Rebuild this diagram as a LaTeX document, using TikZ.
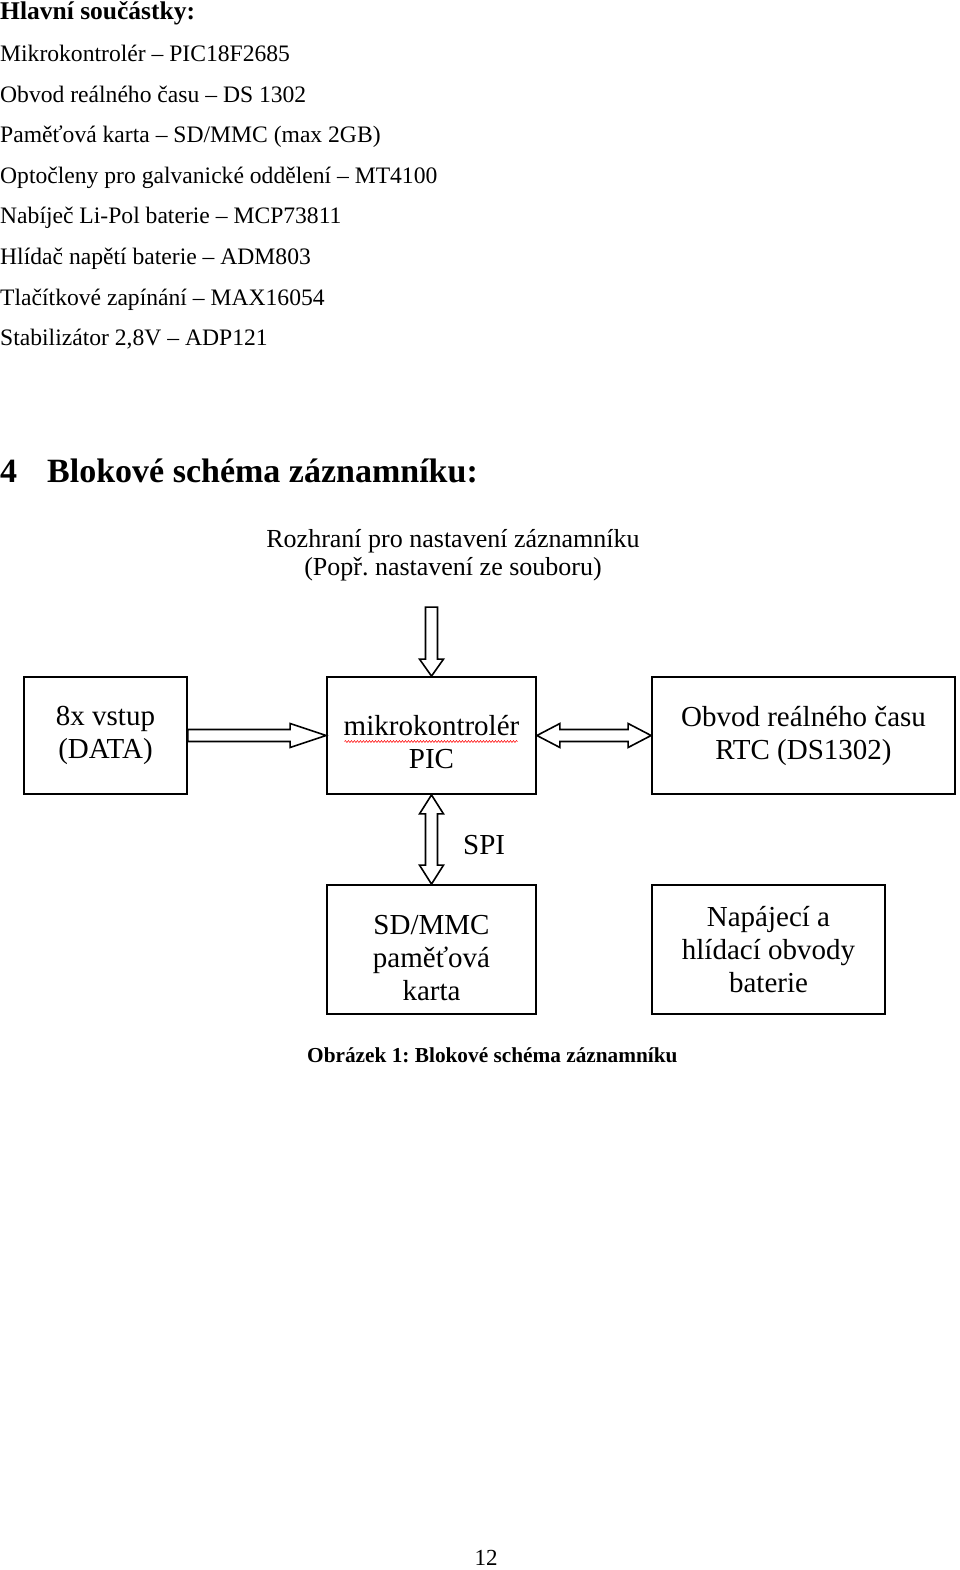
\documentclass[tikz,border=0pt]{standalone}
\usepackage{fontspec}
\setmainfont{Liberation Serif}
\usetikzlibrary{calc,decorations.pathmorphing}
\frenchspacing
\begin{document}
\begin{tikzpicture}[x=1pt,y=-1pt,
  txt/.style={inner sep=0pt,anchor=base west,font=\fontsize{23.6}{27}\selectfont},
  blk/.style={draw,line width=1.8pt,inner sep=0pt,align=center,font=\fontsize{29}{33}\selectfont},
  lbl/.style={inner sep=0pt,align=center,font=\fontsize{29}{33}\selectfont},
  barrow/.style={draw,line width=1.6pt,fill=white,line join=miter}
]
\useasboundingbox (0,0) rectangle (960,1570);

% ---- text list ----
\node[txt,font=\bfseries\fontsize{25.5}{28}\selectfont] (h1) at (0,19.3) {Hlavní součástky:};
\node[txt] (l1) at (0,61.7)  {Mikrokontrolér – PIC18F2685};
\node[txt] (l2) at (0,102.3) {Obvod reálného času – DS 1302};
\node[txt] (l3) at (0,142.8) {Paměťová karta – SD/MMC (max 2GB)};
\node[txt] (l4) at (0,183.4) {Optočleny pro galvanické oddělení – MT4100};
\node[txt] (l5) at (0,224.0) {Nabíječ Li-Pol baterie – MCP73811};
\node[txt] (l6) at (0,264.5) {Hlídač napětí baterie – ADM803};
\node[txt] (l7) at (0,305.1) {Tlačítkové zapínání – MAX16054};
\node[txt] (l8) at (0,345.7) {Stabilizátor 2,8V – ADP121};

\node[txt,font=\bfseries\fontsize{34}{36}\selectfont] (sec) at (0,482.7) {\makebox[47pt][l]{4}Blokové schéma záznamníku:};

% ---- diagram ----
\node[lbl,font=\fontsize{26}{28}\selectfont] (cfg) at (453,555) {Rozhraní pro nastavení záznamníku\\(Popř. nastavení ze souboru)};

\node[blk,minimum width=163pt,minimum height=117pt] (in)  at (105.5,735.5) {8x vstup\\(DATA)};
\node[blk,minimum width=209pt,minimum height=117pt] (pic) at (431.5,735.5) {\rule{0pt}{34pt}mikrokontrolér\\PIC};
\node[blk,minimum width=303pt,minimum height=117pt] (rtc) at (803.5,735.5) {Obvod reálného času\\RTC (DS1302)};
\node[blk,minimum width=209pt,minimum height=129pt] (sd)  at (431.5,949.5) {\rule{0pt}{36pt}SD/MMC\\paměťová\\karta};
\node[blk,minimum width=233pt,minimum height=129pt] (nap) at (768.5,949.5) {Napájecí a\\hlídací obvody\\baterie};

\node[lbl,anchor=base west] (spi) at (463,854) {SPI};

% spell-check underline
\draw[red,line width=0.5pt,decorate,decoration={snake,amplitude=1pt,segment length=3pt}]
  ($(pic.center)+(-87,6)$) -- ($(pic.center)+(86,6)$);

% top arrow into PIC
\draw[barrow] ($(pic.north)+(-6,-69)$) -- ($(pic.north)+(6,-69)$) -- ($(pic.north)+(6,-17)$)
  -- ($(pic.north)+(12,-17)$) -- (pic.north) -- ($(pic.north)+(-12,-17)$)
  -- ($(pic.north)+(-6,-17)$) -- cycle;

% input arrow
\draw[barrow] ($(in.east)+(0,-6)$) -- ($(pic.west)+(-36,-6)$) -- ($(pic.west)+(-36,-12)$)
  -- (pic.west) -- ($(pic.west)+(-36,12)$) -- ($(pic.west)+(-36,6)$)
  -- ($(in.east)+(0,6)$) -- cycle;

% PIC <-> RTC
\draw[barrow] (pic.east) -- ($(pic.east)+(23,-12)$) -- ($(pic.east)+(23,-6)$)
  -- ($(rtc.west)+(-23,-6)$) -- ($(rtc.west)+(-23,-12)$) -- (rtc.west)
  -- ($(rtc.west)+(-23,12)$) -- ($(rtc.west)+(-23,6)$)
  -- ($(pic.east)+(23,6)$) -- ($(pic.east)+(23,12)$) -- cycle;

% PIC <-> SD (SPI)
\draw[barrow] (pic.south) -- ($(pic.south)+(12,19)$) -- ($(pic.south)+(6,19)$)
  -- ($(sd.north)+(6,-19)$) -- ($(sd.north)+(12,-19)$) -- (sd.north)
  -- ($(sd.north)+(-12,-19)$) -- ($(sd.north)+(-6,-19)$)
  -- ($(pic.south)+(-6,19)$) -- ($(pic.south)+(-12,19)$) -- cycle;

\node[txt,font=\bfseries\fontsize{21.3}{24}\selectfont] (cap) at (307,1062) {Obrázek 1: Blokové schéma záznamníku};

\node[inner sep=0pt,anchor=base,font=\fontsize{23}{26}\selectfont] (pg) at (486,1565) {12};
\end{tikzpicture}
\end{document}
